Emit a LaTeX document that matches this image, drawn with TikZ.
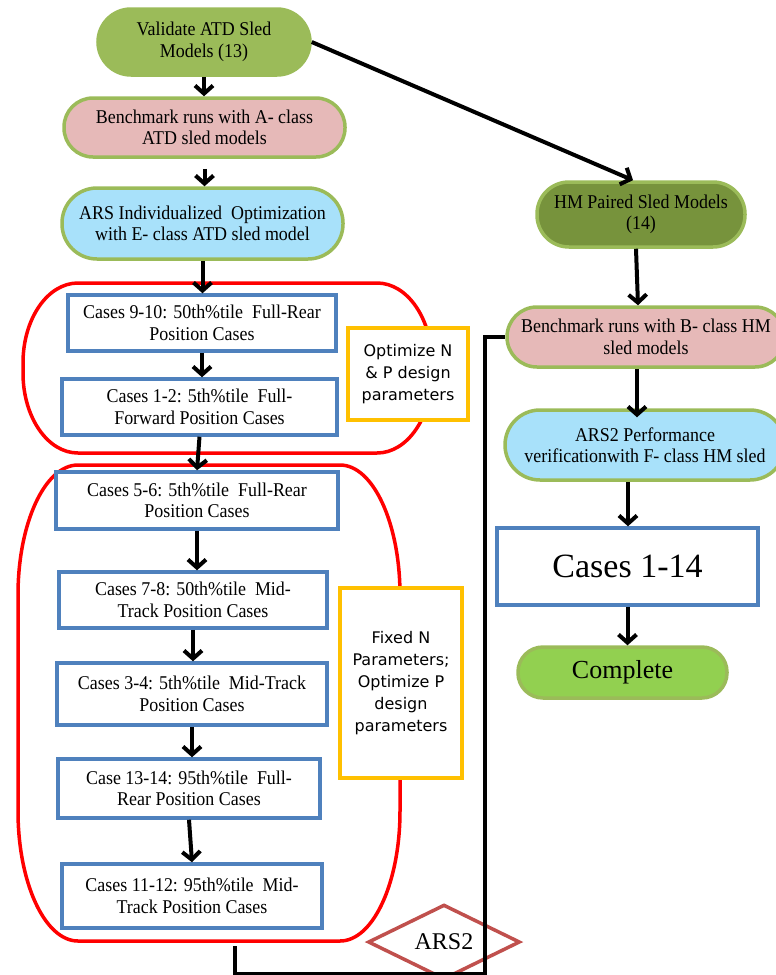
\documentclass[tikz,border=0pt]{standalone}
\usepackage{fontspec}
\setmainfont{Liberation Serif}
\newfontfamily\boxfont[FakeStretch=0.92]{Liberation Serif}
\newfontfamily\yfont{DejaVu Sans}
\usetikzlibrary{arrows.meta,shapes.geometric}
\definecolor{boxblue}{HTML}{4F81BD}
\definecolor{pillgreen}{HTML}{9BBB59}
\definecolor{darkgreen}{HTML}{77933C}
\definecolor{brightgreen}{HTML}{92D050}
\definecolor{pinkfill}{HTML}{E6B9B8}
\definecolor{bluefill}{HTML}{A8E1FA}
\definecolor{yellowline}{HTML}{FFC000}
\definecolor{brownline}{HTML}{C0504D}
\definecolor{redline}{HTML}{FF0000}
\begin{document}
\begin{tikzpicture}[x=1pt,y=-1pt,
  txt/.style={font=\boxfont\fontsize{19.5}{21.5}\selectfont},
  casebox/.style={draw=boxblue, line width=3.5pt, fill=white, inner sep=0pt, align=center, txt},
  pill/.style={draw=pillgreen, line width=3.5pt, inner sep=0pt, align=center, txt, rounded corners=#1},
  notebox/.style={draw=yellowline, line width=3.5pt, fill=white, inner sep=0pt, align=center, font=\yfont\fontsize{16}{22}\selectfont},
  arr/.style={line width=4pt, -{Straight Barb[length=8pt,width=18pt]}},
  conn/.style={line width=3.5pt},
  region/.style={draw=redline, line width=3.5pt}
]
\useasboundingbox (0,0) rectangle (776,975);
\clip (0,0) rectangle (776,975);

% red grouping regions
\draw[region] (78,283) -- (377,283) .. controls (407.4,283) and (432,318.8) .. (432,363)
  -- (432,373) .. controls (432,417.2) and (407.4,453) .. (377,453)
  -- (78,453) .. controls (47.6,453) and (23,417.2) .. (23,373)
  -- (23,363) .. controls (23,318.8) and (47.6,283) .. (78,283) -- cycle;
\draw[region] (78,465) -- (340,465) .. controls (373.1,465) and (400,523.2) .. (400,595)
  -- (400,811) .. controls (400,882.8) and (373.1,941) .. (340,941)
  -- (78,941) .. controls (44.9,941) and (18,882.8) .. (18,811)
  -- (18,595) .. controls (18,523.2) and (44.9,465) .. (78,465) -- cycle;

% left column
\node[pill=33, fill=pillgreen, minimum width=212pt, minimum height=66pt] (A) at (204,42) {Validate ATD Sled\\Models (13)};
\node[pill=29, fill=pinkfill, minimum width=281pt, minimum height=59pt] (B) at (204.5,127.5) {Benchmark runs with A- class\\ATD sled models};
\node[pill=35, fill=bluefill, minimum width=281pt, minimum height=71pt] (C) at (202.5,223.5) {ARS Individualized\ \ Optimization\\with E- class ATD sled model};
\node[casebox, minimum width=268pt, minimum height=56pt] (D) at (202,323) {Cases 9-10: 50th\%tile\ \ Full-Rear\\Position Cases};
\node[casebox, minimum width=275pt, minimum height=56pt] (E) at (199.5,407) {Cases 1-2: 5th\%tile\ \ Full-\\Forward Position Cases};
\node[casebox, minimum width=282pt, minimum height=57pt] (F) at (197,500.5) {Cases 5-6: 5th\%tile\ \ Full-Rear\\Position Cases};
\node[casebox, minimum width=268pt, minimum height=56pt] (G) at (193,600) {Cases 7-8: 50th\%tile\ \ Mid-\\Track Position Cases};
\node[casebox, minimum width=270pt, minimum height=62pt] (H) at (192,694) {Cases 3-4: 5th\%tile\ \ Mid-Track\\Position Cases};
\node[casebox, minimum width=262pt, minimum height=59pt] (I) at (189,788.5) {Case 13-14: 95th\%tile\ \ Full-\\Rear Position Cases};
\node[casebox, minimum width=260pt, minimum height=64pt] (J) at (192,896) {Cases 11-12: 95th\%tile\ \ Mid-\\Track Position Cases};

% notes
\node[notebox, minimum width=120pt, minimum height=92pt] (Y1) at (408,374) {Optimize N\\\& P design\\parameters};
\node[notebox, minimum width=122pt, minimum height=190pt] (Y2) at (401,683) {Fixed N\\Parameters;\\Optimize P\\design\\parameters};

% right column
\node[pill=32, fill=darkgreen, minimum width=208pt, minimum height=65pt] (K) at (641,214.5) {HM Paired Sled Models\\(14)};
\node[pill=30, fill=pinkfill, minimum width=278pt, minimum height=60pt] (L) at (646,337) {Benchmark runs with B- class HM\\sled models};
\node[pill=35, fill=bluefill, minimum width=280pt, minimum height=70pt] (M) at (645,445) {ARS2 Performance\\verificationwith F- class HM sled};
\node[casebox, minimum width=261pt, minimum height=77pt, font=\fontsize{34}{40}\selectfont] (N) at (627.5,566.5) {Cases 1-14};
\node[pill=25, fill=brightgreen, minimum width=209pt, minimum height=51pt, font=\fontsize{26}{30}\selectfont] (O) at (622.5,672.5) {Complete};

% diamond
\node[diamond, draw=brownline, line width=3.5pt, fill=white, minimum width=152pt, minimum height=70pt, inner sep=0pt, font=\fontsize{24}{28}\selectfont] (Q) at (444,942) {ARS2};

% arrows
\draw[arr] (A.south) -- (A.south |- B.north);
\draw[arr] ([yshift=-10pt]B.south) -- (B.south |- C.north);
\draw[arr] (C.south) -- (C.south |- D.north);
\draw[arr] (D.south) -- (D.south |- E.north);
\draw[arr] (E.south) -- (F.north);
\draw[arr] (F.south) -- (F.south |- G.north);
\draw[arr] (G.south) -- (G.south |- H.north);
\draw[arr] (H.south) -- (H.south |- I.north);
\draw[arr] (I.south) -- (J.north);
\draw[arr] (A.east) -- ([xshift=-8pt]K.north);
\draw[arr] ([xshift=-5pt]K.south) -- ([xshift=-8pt]L.north);
\draw[arr] ([xshift=-9pt]L.south) -- ([xshift=-9pt,yshift=-9pt]L.south |- M.north);
\draw[arr] ([xshift=-17pt]M.south) -- ([xshift=-17pt]M.south |- N.north);
\draw[arr] (N.south) -- (N.south |- O.north);

% return connector
\coordinate (r2b) at (235,946);
\coordinate (bl) at (235,974);
\coordinate (br) at (485,974);
\draw[conn] (r2b) -- (bl) -- (br) |- (L.west);
\end{tikzpicture}
\end{document}
